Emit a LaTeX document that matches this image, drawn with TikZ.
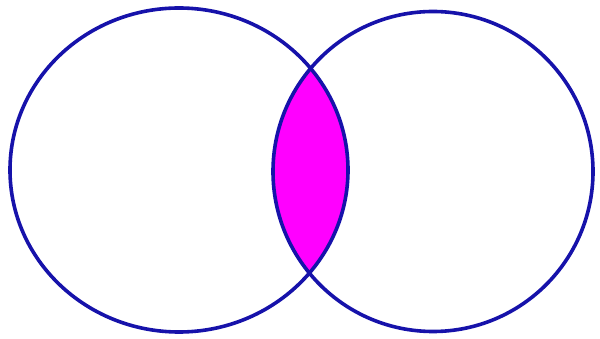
\documentclass[tikz,border=0pt]{standalone}
\begin{document}
\begin{tikzpicture}[x=1pt,y=-1pt]
\definecolor{vennblue}{RGB}{22,18,170}
\definecolor{vennfill}{RGB}{255,0,255}
\tikzset{vennline/.style={draw=vennblue,line width=3.6pt}}
\useasboundingbox[fill=white] (0,0) rectangle (600,339);
\begin{scope}
\clip (179,170) ellipse [x radius=169, y radius=162];
\fill[vennfill] (433,171.5) ellipse [x radius=160, y radius=160];
\end{scope}
\draw[vennline] (179,170) ellipse [x radius=169, y radius=162];
\draw[vennline] (433,171.5) ellipse [x radius=160, y radius=160];
\end{tikzpicture}
\end{document}
